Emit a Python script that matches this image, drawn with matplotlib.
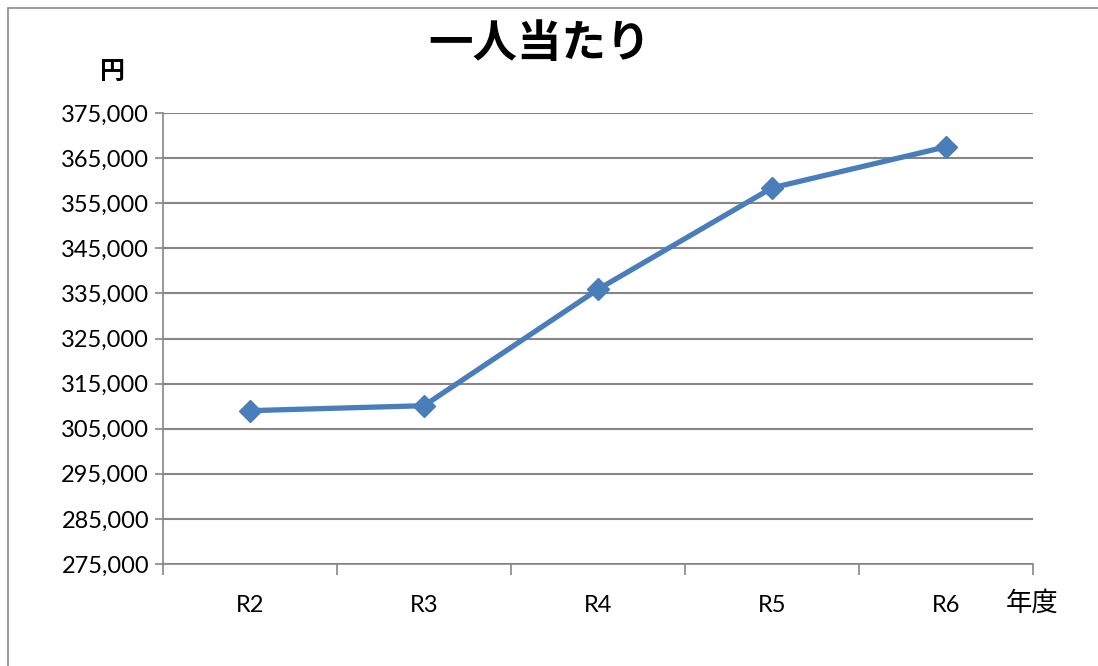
import matplotlib
matplotlib.use("Agg")
import matplotlib.pyplot as plt
from matplotlib.ticker import FuncFormatter, FixedLocator
from matplotlib.patches import Rectangle

categories = ["R2", "R3", "R4", "R5", "R6"]
values = [309000, 310100, 335900, 358400, 367500]
yticks = list(range(275000, 375001, 10000))

title = "一人当たり"
ylabel = "円"
xlabel = "年度"

LINE = "#4A7EBB"
GRID = "#868686"

fig = plt.figure(figsize=(10.98, 6.66), dpi=100)
fig.patches.append(Rectangle((8/1098, -0.1), 1.2, 1 - 8/666 + 0.1, transform=fig.transFigure,
                             fill=False, edgecolor="#8c8c8c", linewidth=1.2))

ax = fig.add_axes([163/1098, 1 - 564/666, (1033 - 163)/1098, (564 - 113)/666])

x = list(range(len(categories)))
ax.plot(x, values, color=LINE, linewidth=3.8, marker="D", markersize=11,
        markerfacecolor=LINE, markeredgecolor=LINE, zorder=3)

ax.set_xlim(-0.5, len(categories) - 0.5)
ax.set_ylim(yticks[0], yticks[-1])
ax.set_yticks(yticks)
ax.yaxis.set_major_formatter(FuncFormatter(lambda v, p: f"{int(v):,}"))
ax.set_xticks(x)
ax.set_xticklabels(categories)
ax.xaxis.set_minor_locator(FixedLocator([i - 0.5 for i in range(len(categories) + 1)]))

ax.grid(axis="y", color=GRID, linewidth=1.5)
ax.set_axisbelow(True)
for s in ["top", "right"]:
    ax.spines[s].set_visible(False)
for s in ["left", "bottom"]:
    ax.spines[s].set_color(GRID)
    ax.spines[s].set_linewidth(1.2)

ax.tick_params(axis="y", which="major", length=6, color=GRID, width=1.2, pad=4,
               labelsize=17)
ax.tick_params(axis="x", which="major", length=0, pad=22, labelsize=17)
ax.tick_params(axis="x", which="minor", length=8, color=GRID, width=1.2)
for lab in ax.get_xticklabels() + ax.get_yticklabels():
    lab.set_family(["Lato", "DejaVu Sans"])

fig.text(540/1098, 1 - 44/666, title, ha="center", va="center",
         fontsize=32, fontweight="bold", family=["Noto Sans CJK JP", "DejaVu Sans"])
fig.text(113/1098, 1 - 72/666, ylabel, ha="center", va="center",
         fontsize=18, fontweight="bold", family=["Noto Sans CJK JP", "DejaVu Sans"])
fig.text(1032/1098, 1 - 603/666, xlabel, ha="center", va="center",
         fontsize=19, family=["Noto Sans CJK JP", "DejaVu Sans"])

fig.savefig("out.png", dpi=100)
